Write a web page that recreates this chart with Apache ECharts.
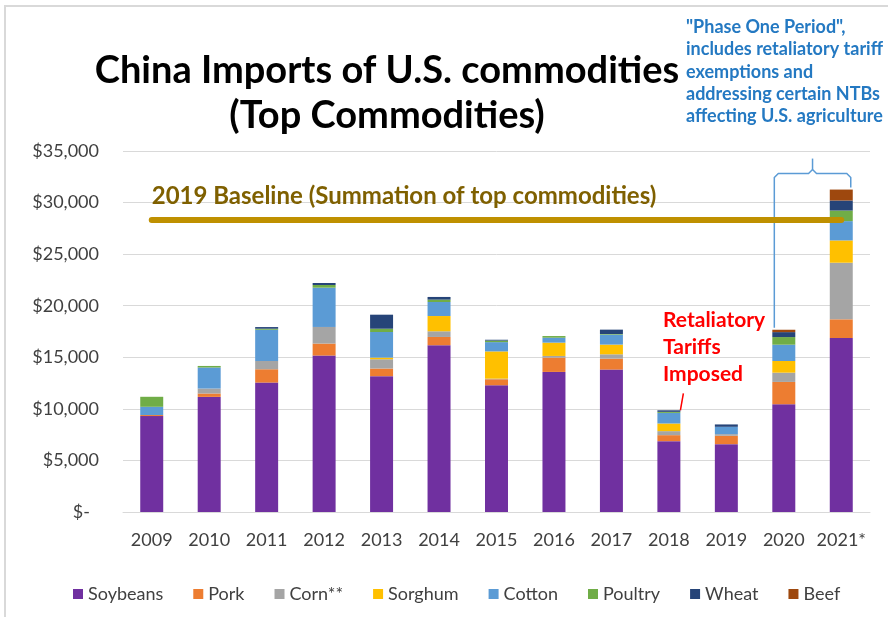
<!DOCTYPE html>
<html>
<head>
<meta charset="utf-8">
<script src="https://cdn.jsdelivr.net/npm/echarts@6/dist/echarts.min.js"></script>
<style>
  html, body { margin: 0; padding: 0; background: #ffffff; }
  #chart { width: 888px; height: 617px; }
</style>
</head>
<body>
<div id="chart"></div>
<script>
// China imports of top U.S. commodities, million USD
const years = ['2009', '2010', '2011', '2012', '2013', '2014', '2015', '2016', '2017', '2018', '2019', '2020', '2021*'];
const soybeans = [9300, 11160, 12550, 15170, 13170, 16170, 12290, 13580, 13810, 6870, 6580, 10450, 16870];
const pork     = [100, 330, 1290, 1160, 740, 800, 580, 1390, 1060, 580, 810, 2160, 1810];
const corn     = [0, 480, 800, 1610, 900, 550, 60, 160, 420, 390, 160, 900, 5490];
const sorghum  = [0, 0, 0, 0, 160, 1480, 2640, 1290, 940, 740, 0, 1130, 2160];
const cotton   = [800, 2040, 3030, 3810, 2480, 1360, 900, 480, 970, 1030, 710, 1580, 1870];
const poultry  = [970, 150, 100, 260, 320, 230, 150, 160, 60, 100, 0, 740, 1030];
const wheat    = [0, 0, 160, 190, 1360, 260, 80, 0, 420, 150, 230, 480, 970];
const beef     = [0, 0, 0, 0, 0, 0, 0, 0, 0, 0, 0, 230, 1060];
const baseline2019 = 28300;
const yTicks = [0, 5000, 10000, 15000, 20000, 25000, 30000, 35000];

const commodities = [
  { name: 'Soybeans', data: soybeans, color: '#7030A0' },
  { name: 'Pork',     data: pork,     color: '#ED7D31' },
  { name: 'Corn**',   data: corn,     color: '#A5A5A5' },
  { name: 'Sorghum',  data: sorghum,  color: '#FFC000' },
  { name: 'Cotton',   data: cotton,   color: '#5B9BD5' },
  { name: 'Poultry',  data: poultry,  color: '#70AD47' },
  { name: 'Wheat',    data: wheat,    color: '#264478' },
  { name: 'Beef',     data: beef,     color: '#9E480E' }
];

const FONT = 'Lato';
const BAR_RATIO = 0.4;
const chart = echarts.init(document.getElementById('chart'), null, { renderer: 'canvas' });

const series = commodities.map((c, i) => {
  const s = {
    name: c.name,
    type: 'bar',
    stack: 'total',
    barWidth: (BAR_RATIO * 100) + '%',
    data: c.data,
    itemStyle: { color: c.color },
    emphasis: { disabled: true }
  };
  if (i === 0) {
    s.markLine = {
      silent: true,
      symbol: ['none', 'none'],
      lineStyle: { color: '#BF9000', width: 6, type: 'solid', cap: 'round' },
      label: {
        show: true,
        position: 'insideStartTop',
        distance: [0, 12],
        formatter: '2019 Baseline (Summation of top commodities)',
        color: '#7F6000',
        fontFamily: FONT,
        fontWeight: 'bold',
        fontSize: 24
      },
      data: [[
        { coord: [years[0], baseline2019] },
        { coord: [years[years.length - 1], baseline2019] }
      ]]
    };
  }
  return s;
});

chart.setOption({
  animation: false,
  backgroundColor: '#ffffff',
  title: {
    text: 'China Imports of U.S. commodities\n(Top Commodities)',
    left: 382,
    top: 43,
    textAlign: 'center',
    textStyle: { fontFamily: FONT, fontWeight: 'bold', fontSize: 38, lineHeight: 45, color: '#000000' }
  },
  grid: { left: 123, right: 18, top: 151, bottom: 105 },
  legend: {
    left: 68,
    top: 580,
    itemWidth: 10,
    itemHeight: 10,
    itemGap: 30,
    icon: 'rect',
    textStyle: { fontFamily: FONT, fontSize: 18, color: '#404040' },
    data: commodities.map(c => c.name)
  },
  xAxis: {
    type: 'category',
    data: years,
    axisLine: { lineStyle: { color: '#D9D9D9', width: 1 } },
    axisTick: { show: false },
    axisLabel: { interval: 0, fontFamily: FONT, fontSize: 18, color: '#404040', margin: 19 }
  },
  yAxis: {
    type: 'value',
    min: yTicks[0],
    max: yTicks[yTicks.length - 1],
    interval: yTicks[1] - yTicks[0],
    axisLine: { show: false },
    axisTick: { show: false },
    splitLine: { lineStyle: { color: '#D9D9D9', width: 1 } },
    axisLabel: {
      margin: 24,
      fontFamily: FONT, fontSize: 18, color: '#404040',
      formatter: v => v === 0 ? '{z|$-}' : '$' + v.toLocaleString('en-US'),
      rich: { z: { fontFamily: FONT, fontSize: 18, color: '#404040', padding: [0, 9, 0, 0] } }
    }
  },
  series: series
});

// Annotations anchored to the bars they describe
const totals = years.map((_, i) => commodities.reduce((s, c) => s + c.data[i], 0));
const px = (i, v) => chart.convertToPixel({ gridIndex: 0 }, [years[i], v]);
const catWidth = px(1, 0)[0] - px(0, 0)[0];
const half = catWidth * BAR_RATIO / 2;

const i18 = years.indexOf('2018');
const i20 = years.indexOf('2020');
const i21 = years.indexOf('2021*');
const top18 = px(i18, totals[i18]);
const top20 = px(i20, totals[i20]);
const top21 = px(i21, totals[i21]);

// Bracket spanning the 2020 and 2021 bars
const xL = top20[0] - half + 2;
const xR = top21[0] + half - 2;
const yH = top21[1] - 16;
const xM = (xL + xR) / 2;
const bracketStyle = { fill: 'none', stroke: '#5B9BD5', lineWidth: 1.5 };

const redX = top18[0] + half;

chart.setOption({
  graphic: [
    {
      type: 'rect', silent: true, z: -1,
      shape: { x: 5, y: 6, width: 900, height: 700 },
      style: { fill: 'none', stroke: '#D9D9D9', lineWidth: 2 }
    },
    {
      type: 'polyline', silent: true,
      shape: { points: [[xL, top20[1] - 2], [xL, yH + 4], [xL + 4, yH], [xM - 4, yH], [xM, yH - 4], [xM + 4, yH], [xR - 4, yH], [xR, yH + 4], [xR, top21[1] - 2]] },
      style: bracketStyle
    },
    {
      type: 'line', silent: true,
      shape: { x1: xM, y1: yH - 4, x2: xM, y2: yH - 15 },
      style: bracketStyle
    },
    {
      type: 'text', silent: true, left: 686, top: 16,
      style: {
        text: '"Phase One Period",\nincludes retaliatory tariff\nexemptions and\naddressing certain NTBs\naffecting U.S. agriculture',
        fill: '#2479C2', font: 'bold 18px Lato', lineHeight: 22.3
      }
    },
    {
      type: 'line', silent: true,
      shape: { x1: redX, y1: top18[1], x2: redX + 3, y2: top18[1] - 17 },
      style: { stroke: '#FF0000', lineWidth: 1.5 }
    },
    {
      type: 'text', silent: true, left: 663, top: 307,
      style: {
        text: 'Retaliatory\nTariffs\nImposed',
        fill: '#FF0000', font: 'bold 21px Lato', lineHeight: 27
      }
    }
  ]
});
</script>
</body>
</html>
